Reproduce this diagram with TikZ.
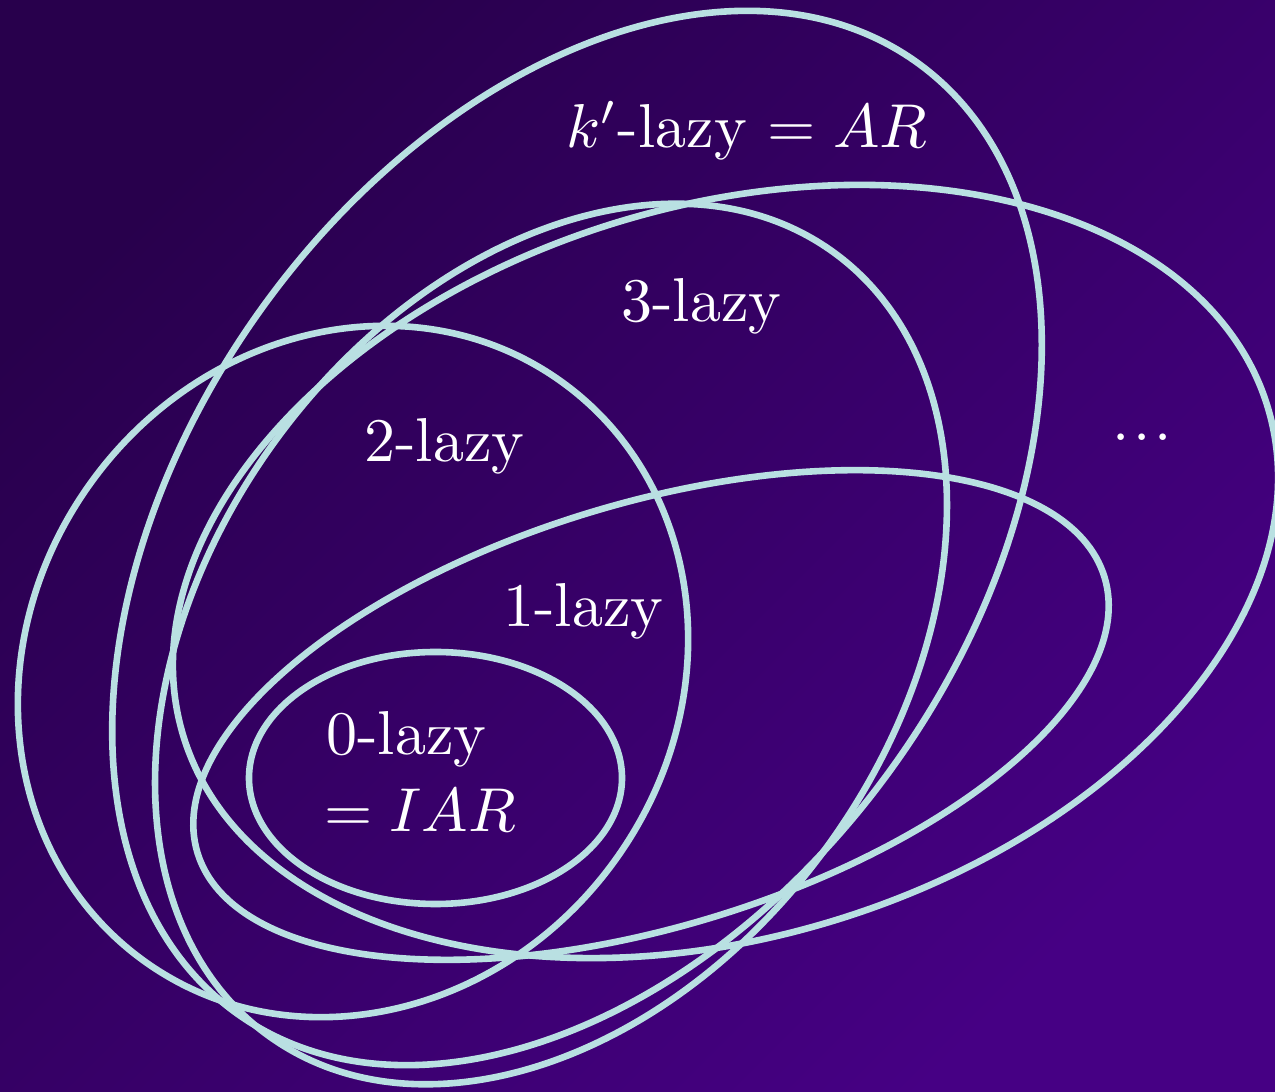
\documentclass[tikz,border=0pt]{standalone}
\definecolor{bgA}{RGB}{40,0,76}
\definecolor{bgB}{RGB}{70,0,132}
\definecolor{ringc}{RGB}{185,224,226}
\begin{document}
\begin{tikzpicture}[x=1pt,y=1pt,
  ring/.style={draw=ringc, line width=6.6pt},
  lbl/.style={text=white, inner sep=0pt, scale=6.2, anchor=base west}]
\useasboundingbox (0,0) rectangle (1275,1092);
\shade[top color=bgA, bottom color=bgB, shading angle=45] (0,0) rectangle (1275,1092);
% sets
\draw[ring] (435.5,314) ellipse (186.5 and 126);
\draw[ring, rotate around={16.9:(651,377)}] (651,377) ellipse (474 and 211.5);
\draw[ring, rotate around={54:(353,420.5)}] (353,420.5) ellipse (357 and 323);
\draw[ring, rotate around={54.3:(551,448)}] (551,448) ellipse (483 and 342.5);
\draw[ring, rotate around={54.5:(577,554)}] (577,554) ellipse (584.6 and 390);
\draw[ring, rotate around={16.85:(725.5,520.5)}] (725.5,520.5) ellipse (566.6 and 365.6);
% labels
\node[lbl] (kl) at (565,944) {$k'$-lazy $= AR$};
\node[lbl] (l3) at (620,770) {3-lazy};
\node[lbl] (l2) at (363,630) {2-lazy};
\node[lbl] (l1) at (502,465) {1-lazy};
\node[lbl] (l0) at (325,337) {0-lazy};
\node[lbl] (l0b) at (323,260) {$= IAR$};
\node[lbl, anchor=center] (dots) at (1142,655) {.\kern.06em.\kern.06em.};
\end{tikzpicture}
\end{document}
